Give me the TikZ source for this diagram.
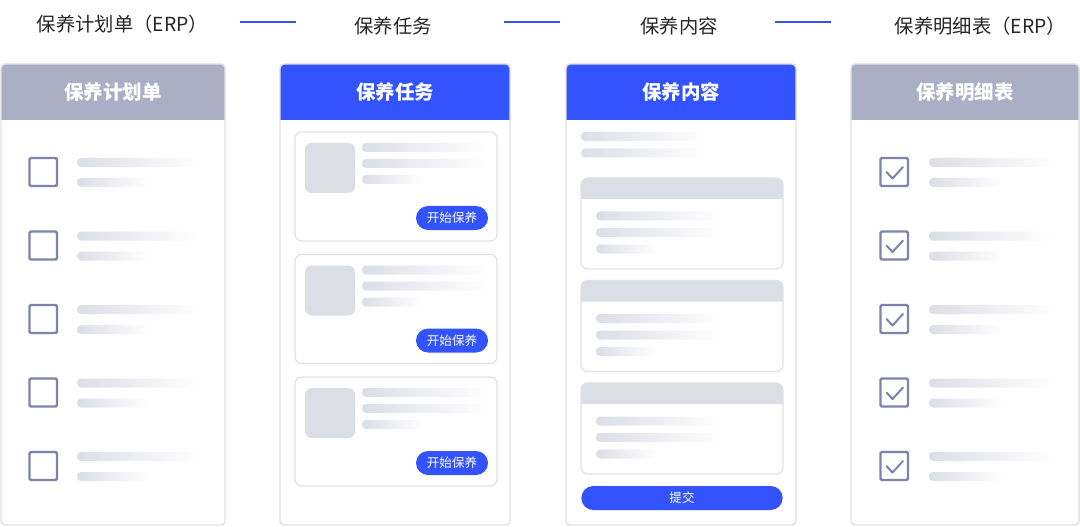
\documentclass[tikz,border=0pt]{standalone}
\usepackage{fontspec}
\newfontfamily\cjk{Noto Sans CJK SC}
\usepackage{tikz}
\usetikzlibrary{positioning,calc}

\definecolor{brandblue}{HTML}{3253FE}
\definecolor{headgray}{HTML}{ABAFC5}
\definecolor{boxgray}{HTML}{7D83AA}
\definecolor{skelgray}{HTML}{DCDEE6}
\definecolor{edgegray}{HTML}{E1E1E4}

\tikzset{
  panel/.style={draw=edgegray, line width=1.1pt, rounded corners=3pt},
  card/.style={draw=edgegray, line width=0.9pt, rounded corners=5pt},
  skel/.style={left color=skelgray, right color=white, rounded corners=3pt},
  thumb/.style={fill=skelgray, rounded corners=5pt},
  tickbox/.style={draw=boxgray, line width=1.8pt, rounded corners=1pt},
  tickmark/.style={draw=boxgray, line width=1.5pt, line cap=round, line join=round},
  title/.style={font=\cjk\fontsize{14.5}{17}\selectfont, text=black!85, inner sep=0pt},
  headtext/.style={font=\cjk\bfseries\fontsize{14.6}{17}\selectfont, text=white, inner sep=0pt},
  pill/.style={fill=brandblue, rounded corners=9pt, text=white, inner sep=0pt,
    minimum height=18pt, font=\cjk\fontsize{9.4}{11}\selectfont},
  link/.style={draw=brandblue, line width=2.2pt},
}

\begin{document}
\begin{tikzpicture}[x=0.75pt, y=-0.75pt]
	\useasboundingbox (0,0) rectangle (1080,527);
	\node[title] (t1) at (122.5,24) {保养计划单（ERP）};
	\node[title] (t2) at (393,26) {保养任务};
	\node[title] (t3) at (679,26) {保养内容};
	\node[title] (t4) at (980.5,26) {保养明细表（ERP）};
	\foreach \a/\b in {240/296, 504/560, 775/831}
		\draw[link] (\a,22) -- (\b,22);
	\foreach \x/\w/\c/\t [count=\i] in {1/224/headgray/保养计划单, 280/230/brandblue/保养任务, 566/230/brandblue/保养内容, 851/228/headgray/保养明细表} {
		\fill[white] (\x,64) rectangle ++(\w,461);
		\fill[\c] (\x,120) [rounded corners=3pt] -- (\x,64) -- ({\x+\w},64) [sharp corners] -- ({\x+\w},120) -- cycle;
		\draw[panel] (\x,64) rectangle ++(\w,461);
		\node[headtext] (h\i) at ({\x+\w/2},92) {\t};
	}
	\foreach \y in {158,231.5,305,378.5,452} {
		\draw[tickbox] (29.5,\y) rectangle ++(27.5,28);
		\shade[skel] (77,\y) rectangle ++(121,9);
		\shade[skel] (77,\y+20) rectangle ++(72,9);
		\draw[tickbox] (880.5,\y) rectangle ++(27.5,28);
		\draw[tickmark] (886.5,\y+14) -- (892.5,\y+20.5) -- (903,\y+9);
		\shade[skel] (929,\y) rectangle ++(124,9);
		\shade[skel] (929,\y+20) rectangle ++(74,9);
	}
	\foreach \y [count=\k] in {132,254.5,377} {
		\draw[card] (295,\y) rectangle ++(202,109);
		\fill[thumb] (305,\y+11) rectangle ++(50,50);
		\shade[skel] (362,\y+11) rectangle ++(125,9);
		\shade[skel] (362,\y+27) rectangle ++(125,9);
		\shade[skel] (362,\y+43) rectangle ++(60,9);
		\node[pill, minimum width=54pt] (go\k) at (452,\y+86) {开始保养};
	}
	\shade[skel] (581,132) rectangle ++(126,9);
	\shade[skel] (581,148.5) rectangle ++(126,9);
	\foreach \y in {178,280.5,383} {
		\fill[skelgray] (581,\y+21) [rounded corners=5pt] -- (581,\y) -- (783,\y) [sharp corners] -- (783,\y+21) -- cycle;
		\draw[card] (581,\y) rectangle ++(202,91);
		\shade[skel] (596,\y+33.5) rectangle ++(126,9);
		\shade[skel] (596,\y+50) rectangle ++(126,9);
		\shade[skel] (596,\y+66.5) rectangle ++(60,9);
	}
	\node[pill, minimum width=151pt] (submit) at (682,498) {提交};
\end{tikzpicture}
\end{document}
